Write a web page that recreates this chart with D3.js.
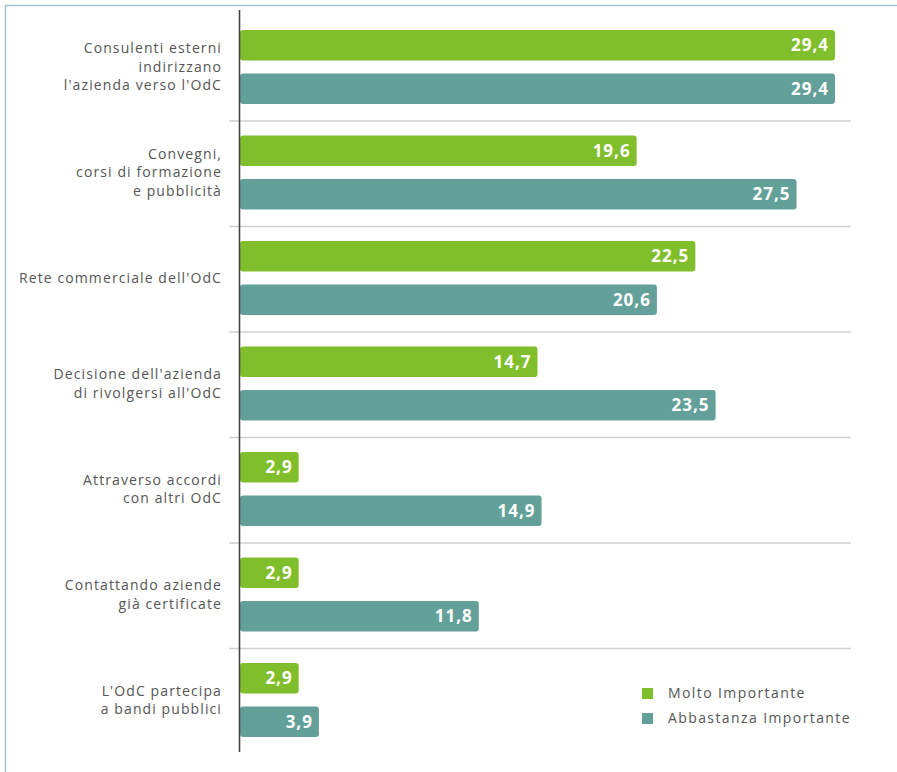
<!DOCTYPE html>
<html>
<head>
<meta charset="utf-8">
<script src="https://cdn.jsdelivr.net/npm/d3@7"></script>
<style>
  html, body { margin: 0; padding: 0; background: #fff; }
  svg { display: block; }
</style>
</head>
<body>
<svg id="chart" width="897" height="772"></svg>
<script>
// Canali di acquisizione dei clienti: quota di risposte per livello di importanza
const categories = [
  ["Consulenti esterni", "indirizzano", "l'azienda verso l'OdC"],
  ["Convegni,", "corsi di formazione", "e pubblicità"],
  ["Rete commerciale dell'OdC"],
  ["Decisione dell'azienda", "di rivolgersi all'OdC"],
  ["Attraverso accordi", "con altri OdC"],
  ["Contattando aziende", "già certificate"],
  ["L'OdC partecipa", "a bandi pubblici"]
];
const seriesNames = ["Molto Importante", "Abbastanza Importante"];
const moltoImportante = [29.4, 19.6, 22.5, 14.7, 2.9, 2.9, 2.9];
const abbastanzaImportante = [29.4, 27.5, 20.6, 23.5, 14.9, 11.8, 3.9];
const seriesColors = ["#80bf2b", "#62a099"];

const svg = d3.select("#chart");
const fmt = v => d3.format(".1f")(v).replace(".", ",");

// frame (top and left edges visible)
svg.append("rect")
  .attr("x", 5.5).attr("y", 5.5)
  .attr("width", 1000).attr("height", 1000)
  .attr("fill", "none").attr("stroke", "#9fc3cc").attr("stroke-width", 1.5);

const x0 = 240;
const x = d3.scaleLinear().domain([0, 29.4]).range([x0, 835]);
const idx = d3.range(categories.length);
const y = d3.scaleBand().domain(idx).range([15, 753.5]).paddingInner(0).paddingOuter(0);
const sub = d3.scaleBand().domain([0, 1]).range([15, 89]).paddingInner(0.3).paddingOuter(0);

// group separators
svg.append("g").selectAll("line")
  .data(idx.slice(1))
  .join("line")
  .attr("x1", 229).attr("x2", 851)
  .attr("y1", d => y(d) + 0.5).attr("y2", d => y(d) + 0.5)
  .attr("stroke", "#cfcfcf").attr("stroke-width", 1.5);

const values = [moltoImportante, abbastanzaImportante];

const groups = svg.append("g").selectAll("g")
  .data(idx)
  .join("g")
  .attr("transform", d => `translate(0,${y(d)})`);

values.forEach((vals, s) => {
  groups.append("rect")
    .attr("x", x0)
    .attr("y", sub(s))
    .attr("width", d => x(vals[d]) - x0)
    .attr("height", sub.bandwidth())
    .attr("rx", 3).attr("ry", 3)
    .attr("fill", seriesColors[s]);

  groups.append("text")
    .attr("x", d => x(vals[d]) - 6)
    .attr("y", sub(s) + sub.bandwidth() / 2)
    .attr("dy", "0.36em")
    .attr("text-anchor", "end")
    .attr("font-family", "Open Sans, sans-serif")
    .attr("font-size", 17)
    .attr("font-weight", 700)
    .attr("letter-spacing", 1)
    .attr("fill", "#fff")
    .text(d => fmt(vals[d]));
});

// category labels
const lineH = 18.5;
groups.append("text")
  .attr("text-anchor", "end")
  .attr("font-family", "Open Sans, sans-serif")
  .attr("font-size", 14)
  .attr("letter-spacing", 1.1)
  .attr("fill", "#555")
  .each(function(d) {
    const lines = categories[d];
    const mid = 52;
    const start = mid - (lines.length - 1) * lineH / 2;
    d3.select(this).selectAll("tspan")
      .data(lines)
      .join("tspan")
      .attr("x", 222)
      .attr("y", (l, i) => start + i * lineH)
      .attr("dy", "0.35em")
      .text(l => l);
  });

// value axis baseline
svg.append("line")
  .attr("x1", x0 - 0.5).attr("x2", x0 - 0.5)
  .attr("y1", 10).attr("y2", 752)
  .attr("stroke", "#444").attr("stroke-width", 1.6);

// legend
const legend = svg.append("g").attr("transform", "translate(642,688)");
seriesNames.forEach((name, i) => {
  legend.append("rect")
    .attr("x", 0).attr("y", i * 25)
    .attr("width", 11).attr("height", 11)
    .attr("fill", seriesColors[i]);
  legend.append("text")
    .attr("x", 26).attr("y", i * 25 + 5.5)
    .attr("dy", "0.35em")
    .attr("font-family", "Open Sans, sans-serif")
    .attr("font-size", 14)
    .attr("letter-spacing", 1.4)
    .attr("fill", "#555")
    .text(name);
});
</script>
</body>
</html>
